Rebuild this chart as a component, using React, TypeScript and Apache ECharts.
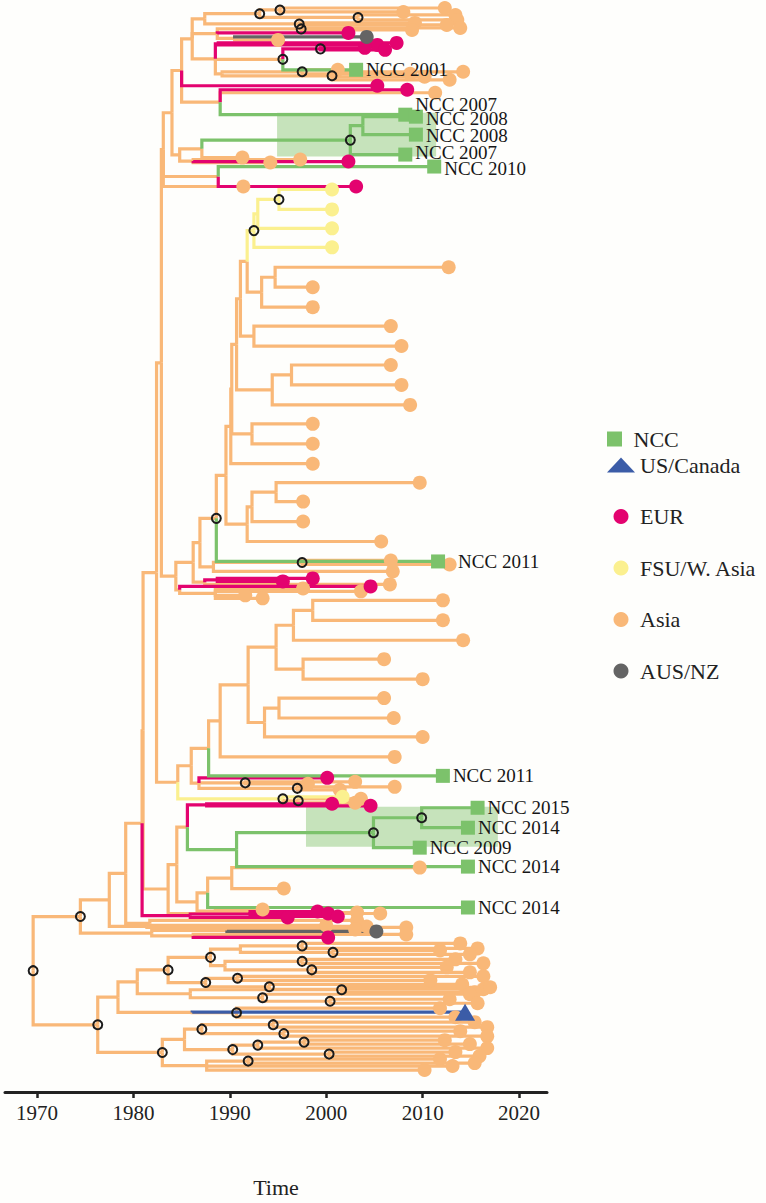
import React, { useEffect, useRef } from "react";
import * as echarts from "echarts";

// ---------------- data ----------------
// node = [year, regionCode, childrenOrRow, circled(1)|label]
// leaf: [tipYear, region, row, optionalLabel]; internal: [nodeYear, region, [children], 1 if node marked]
const timeTicks = [1970, 1980, 1990, 2000, 2010, 2020];
const regionNames: Record<string, string> = {
  N: "NCC",
  U: "US/Canada",
  E: "EUR",
  F: "FSU/W. Asia",
  A: "Asia",
  Z: "AUS/NZ",
};
const shapeLegend = ["N"];
const regionLegend = ["U", "E", "F", "A", "Z"];
// shaded intervals: [fromYear, fromRow, toYear, toRow]
const shadedIntervals = [
  [1994.9, 5.15, 2011.4, 7.35],
  [1997.9, 39.95, 2017.8, 41.95],
];

const topCluster = [1984.0, "A", [
  [1985.0, "A", [
    [1986.1, "A", [
      [1987.4, "A", [
        [1993.1, "A", [
          [1995.2, "A", [[2012.3, "A", -0.1], [2008.0, "A", 0.1]], 1],
          [2003.3, "A", [[2013.4, "A", 0.25], [2013.6, "A", 0.5]], 1],
        ], 1],
        [1997.2, "A", [[2009.2, "A", 0.65], [2012.5, "A", 0.75]], 1],
      ]],
      [1988.7, "A", [
        [1997.4, "A", [[2013.9, "A", 0.9], [2008.9, "A", 1.0]], 1],
        [2002.3, "E", 1.15],
        [1990.5, "A", [[2004.2, "Z", 1.35], [1995.0, "A", 1.5]]],
      ]],
      [1988.5, "A", [
        [1988.8, "E", [[2007.3, "E", 1.65], [2005.3, "E", 1.75]]],
        [1995.5, "A", [
          [1999.4, "E", [[2004.0, "E", 1.9], [2006.1, "E", 2.0]], 1],
          [2003.1, "N", 3.0, "NCC 2001"],
        ], 1],
        [1989.2, "A", [
          [1997.5, "A", [[2001.2, "A", 3.0], [2008.7, "A", 3.2]], 1],
          [2000.6, "A", [[2014.2, "A", 3.1], [2012.8, "A", 3.5], [2010.2, "A", 3.35]], 1],
        ]],
      ]],
    ]],
    [2005.3, "E", 3.8],
    [1989.0, "A", [[2008.4, "E", 4.0], [2011.3, "A", 4.15], [2008.2, "N", 5.25, "NCC 2007"]]],
  ]],
  [1984.8, "A", [
    [1987.1, "A", [
      [2002.5, "N", [
        [2003.8, "N", [[2009.3, "N", 5.35, "NCC 2008"], [2009.3, "N", 6.25, "NCC 2008"]]],
        [2008.2, "N", 7.25, "NCC 2007"],
      ], 1],
      [1991.3, "A", 7.4],
    ]],
    [1986.2, "A", [[1994.2, "A", 7.65], [1997.3, "A", 7.5], [2002.3, "E", 7.6]]],
  ]],
]];

const ncc2010Clade = [1988.8, "A", [[2011.2, "N", 7.85, "NCC 2010"], [2003.1, "E", 8.85]]];

const fsuClade = [1992.5, "F", [
  [1992.9, "F", [
    [1995.1, "F", [[2000.6, "F", 9.0], [2000.6, "F", 10.0]], 1],
    [2000.6, "F", 10.95],
  ]],
  [2000.6, "F", 11.9],
], 1];

const sparseClade = [1988.6, "A", [
  [1989.6, "A", [
    [1990.1, "A", [
      [1990.2, "A", [
        [1990.7, "A", [
          [1991.1, "A", [
            [1991.8, "A", [
              fsuClade,
              [1993.3, "A", [[1994.7, "A", [[2012.7, "A", 12.9], [1998.6, "A", 13.9]]], [1998.6, "A", 14.9]]],
            ]],
            [1992.5, "A", [[2006.7, "A", 15.85], [2007.8, "A", 16.85]]],
          ]],
          [1994.4, "A", [[1996.4, "A", [[2006.7, "A", 17.8], [2007.8, "A", 18.8]]], [2008.7, "A", 19.8]]],
        ]],
        [1992.3, "A", [[1998.6, "A", 20.75], [1998.6, "A", 21.75]]],
      ]],
      [1998.6, "A", 22.75],
    ]],
    [1991.8, "A", [
      [1992.3, "A", [[1994.8, "A", [[2009.7, "A", 23.7], [1997.6, "A", 24.65]]], [1997.6, "A", 25.65]]],
      [2005.7, "A", 26.65],
    ]],
  ]],
  [2011.6, "N", 27.65, "NCC 2011"],
], 1];

const midCluster = [1984.4, "A", [
  [1986.2, "A", [
    [1986.9, "A", [
      sparseClade,
      [1988.3, "A", [[1997.5, "A", [[2006.7, "A", 27.6], [2012.8, "A", 27.8]], 1], [2006.9, "A", 28.15]]],
    ]],
    [1987.4, "A", [[1988.7, "E", [[1995.5, "E", 28.65], [1998.6, "E", 28.5]]], [2006.6, "A", 28.8]]],
  ]],
  [1984.8, "A", [
    [2004.6, "E", 28.9],
    [1988.5, "A", [[2003.6, "A", 29.15], [1997.6, "A", 29.0], [1991.6, "A", 29.35], [1993.4, "A", 29.5]]],
  ]],
]];

const lowerMidCluster = [1984.6, "A", [
  [1986.0, "A", [
    [1987.8, "A", [
      [1989.0, "A", [
        [1991.9, "A", [
          [1994.8, "A", [
            [1996.6, "A", [[1998.6, "A", [[2012.1, "A", 29.6], [2012.1, "A", 30.6]]], [2014.2, "A", 31.6]]],
            [1997.6, "A", [[2006.0, "A", 32.55], [2010.0, "A", 33.55]]],
          ]],
          [1993.6, "A", [[1995.1, "A", [[2006.0, "A", 34.5], [2007.0, "A", 35.5]]], [2010.0, "A", 36.45]]],
        ]],
        [2007.1, "A", 37.45],
      ]],
      [2012.1, "N", 38.4, "NCC 2011"],
    ]],
    [1986.8, "A", [
      [2000.1, "E", 38.5],
      [1991.6, "A", [[1998.1, "A", 38.8], [2003.0, "A", 38.7]], 1],
      [1997.0, "A", [[2007.1, "A", 38.95], [2001.4, "A", 39.1]], 1],
    ]],
  ]],
  [1995.5, "F", [[2001.7, "F", 39.45], [1997.1, "A", [[2003.6, "A", 39.55], [2003.0, "A", 39.75]], 1]], 1],
]];

const nccLowerClade = [1983.6, "A", [
  [1984.5, "A", [
    [1985.6, "A", [
      [1987.6, "E", [[2000.6, "E", 39.8], [2004.6, "E", 39.9]]],
      [1990.7, "N", [
        [2004.9, "N", [
          [2009.9, "N", [[2015.7, "N", 40.0, "NCC 2015"], [2014.7, "N", 41.0, "NCC 2014"]], 1],
          [2009.7, "N", 42.0, "NCC 2009"],
        ], 1],
        [2014.7, "N", 42.95, "NCC 2014"],
      ]],
    ]],
    [1986.6, "A", [
      [1987.7, "A", [[1990.2, "A", [[2009.7, "A", 43.0], [1995.6, "A", 44.05]]], [2014.7, "N", 45.0, "NCC 2014"]]],
      [1988.5, "A", [[1993.4, "A", 45.1], [2003.2, "A", 45.25]]],
    ]],
  ]],
  [2005.6, "A", 45.3],
]];

const eurClade = [1985.9, "E", [
  [1996.0, "E", 45.5],
  [1992.1, "E", [[1999.1, "E", 45.2], [2000.2, "E", 45.3], [2001.2, "E", 45.45]]],
]];

const upperSpine = [1982.4, "A", [
  [1982.9, "A", [
    [1983.1, "A", [topCluster, ncc2010Clade, [1991.4, "A", 8.85]]],
    midCluster,
  ]],
  lowerMidCluster,
]];

const mainSpine = [1980.9, "A", [[1981.0, "A", [upperSpine, nccLowerClade]], eurClade]];

const cladeA = [1974.5, "A", [
  [1977.5, "A", [
    [1979.2, "A", [mainSpine, [1981.7, "A", [[2003.2, "A", 45.65], [2004.2, "A", 45.95]]]]],
    [1981.4, "A", [[2000.0, "A", 45.9], [2008.3, "A", 46.0]]],
  ]],
  [1981.9, "A", [
    [1989.7, "A", [[2005.2, "Z", 46.2], [2003.0, "A", 46.1]]],
    [1986.2, "A", [[2000.2, "E", 46.5], [2008.3, "A", 46.35]]],
  ]],
], 1];

const cladeB = [1976.3, "A", [
  [1978.4, "A", [
    [1980.4, "A", [
      [1983.6, "A", [
        [1988.0, "A", [
          [1991.1, "A", [
            [1997.5, "A", [[2013.9, "A", 46.8], [2015.7, "A", 47.05]], 1],
            [2000.7, "A", [[2011.8, "A", 47.15], [2014.9, "A", 47.35]], 1],
          ]],
          [1989.5, "A", [
            [1997.5, "A", [[2013.4, "A", 47.6], [2016.3, "A", 47.8]], 1],
            [1998.5, "A", [[2012.5, "A", 48.0], [2014.9, "A", 48.25]], 1],
          ]],
        ], 1],
        [1987.5, "A", [
          [1990.8, "A", [[2016.3, "A", 48.45], [2010.8, "A", 48.65]], 1],
          [1994.1, "A", [[2014.1, "A", 48.85], [2016.3, "A", 49.1]], 1],
        ], 1],
      ], 1],
      [1985.9, "A", [
        [2001.6, "A", [[2017.0, "A", 49.0], [2015.4, "A", 49.25]], 1],
        [1993.4, "A", [[2014.9, "A", 49.35], [2000.4, "A", [[2012.8, "A", 49.6], [2015.7, "A", 49.8]], 1]], 1],
      ]],
    ]],
    [1986.1, "A", [[2014.4, "U", 50.25], [1990.7, "A", [[2011.8, "A", 50.05], [2013.4, "A", 50.5]], 1]]],
  ]],
  [1983.0, "A", [
    [1985.3, "A", [
      [1987.1, "A", [
        [1994.5, "A", [[2015.4, "A", 50.75], [2016.7, "A", 51.0]], 1],
        [1995.6, "A", [[2013.9, "A", 51.2], [2016.7, "A", 51.45]], 1],
      ], 1],
      [1990.3, "A", [
        [1992.9, "A", [[1997.7, "A", [[2012.3, "A", 51.65], [2014.9, "A", 51.85]], 1], [2016.7, "A", 52.05]], 1],
        [2000.3, "A", [[2013.4, "A", 52.25], [2015.9, "A", 52.45]], 1],
      ], 1],
    ]],
    [1987.6, "A", [
      [1991.9, "A", [[2011.8, "A", 52.6], [2015.4, "A", 52.8]], 1],
      [2013.1, "A", 52.95],
      [2010.2, "A", 53.15],
    ]],
  ], 1],
], 1];

const treeRoot = [1969.6, "A", [cladeA, cladeB], 1];

// ---------------- styles ----------------
const COLORS: Record<string, string> = {
  N: "#7cc26b",
  U: "#3b5ca7",
  E: "#e3036f",
  F: "#fbf08f",
  A: "#f9b878",
  Z: "#646464",
};
const FONT = "'Liberation Serif', 'Times New Roman', 'DejaVu Serif', serif";
const DRAW_ORDER: Record<string, number> = { A: 0, F: 1, Z: 2, E: 3, N: 4, U: 5 };
// [dx, dy] nudges (px) for NCC tip labels, in tree traversal order
const nccLabelNudge = [
  [0, 0], [0, -10], [0, 2], [0, 1], [0, -2], [0, 2], [10, 0],
  [0, 0], [0, 0], [0, 0], [0, 0], [0, 0], [0, 0],
];
const SQUARE_ICON = "path://M0,0L10,0L10,10L0,10Z";

interface Laid {
  year: number;
  reg: string;
  y: number;
  circled: boolean;
  label?: string;
  leaf: boolean;
  children: Laid[];
}

function layout(n: any[]): Laid {
  const [year, reg, third, extra] = n;
  if (Array.isArray(third)) {
    const kids = third.map((k: any[]) => layout(k));
    const ys = kids.map((k) => k.y);
    const y = (Math.min(...ys) + Math.max(...ys)) / 2;
    return { year, reg, y, circled: extra === 1, leaf: false, children: kids };
  }
  return { year, reg, y: third, circled: false, label: extra, leaf: true, children: [] };
}

function iconFor(c: string) {
  return c === "N" ? SQUARE_ICON : c === "U" ? "triangle" : "circle";
}

function buildOption() {
  const root = layout(treeRoot);
  const edges: { coords: number[][]; reg: string }[] = [];
  const leaves: Laid[] = [];
  const marked: Laid[] = [];
  const walk = (n: Laid) => {
    if (n.circled) marked.push(n);
    if (n.leaf) leaves.push(n);
    n.children.forEach((c) => {
      edges.push({
        coords: [
          [n.year, n.y],
          [n.year, c.y],
          [c.year, c.y],
        ],
        reg: c.reg,
      });
      walk(c);
    });
  };
  walk(root);
  edges.sort((a, b) => DRAW_ORDER[a.reg] - DRAW_ORDER[b.reg]);

  let nccIdx = 0;
  const tipSeries = ["A", "F", "E", "Z", "N", "U"].map((code) => {
    const data = leaves
      .filter((l) => l.reg === code)
      .map((l) => {
        if (code === "N") {
          const off = nccLabelNudge[nccIdx++] || [0, 0];
          return { value: [l.year, l.y], name: l.label || "", label: { offset: off } };
        }
        return { value: [l.year, l.y] };
      });
    return {
      type: "scatter",
      name: regionNames[code],
      z: 4,
      clip: false,
      symbol: code === "N" ? "rect" : code === "U" ? "triangle" : "circle",
      symbolSize: code === "U" ? [20, 17] : 14,
      itemStyle: { color: COLORS[code], opacity: 1 },
      emphasis: { disabled: true },
      label:
        code === "N"
          ? {
              show: true,
              position: "right",
              distance: 3,
              formatter: "{b}",
              fontSize: 19,
              lineHeight: 15,
              fontFamily: FONT,
              color: "#161616",
            }
          : { show: false },
      data,
    };
  });

  const legendBase = {
    orient: "vertical",
    left: 602,
    itemWidth: 28,
    itemHeight: 15,
    symbolKeepAspect: true,
    selectedMode: false,
    textStyle: { fontSize: 22, fontFamily: FONT, color: "#222" },
  };

  return {
    animation: false,
    backgroundColor: "#fefefc",
    grid: { left: 5, right: 219, top: 0, height: 1090 },
    xAxis: {
      type: "value",
      min: 1966.68,
      max: 2022.9,
      position: "bottom",
      offset: 5,
      axisLine: { show: true, onZero: false, lineStyle: { color: "#222", width: 3 } },
      axisTick: { show: true, customValues: timeTicks, length: 6, lineStyle: { color: "#222", width: 2.5 } },
      axisLabel: {
        customValues: timeTicks,
        formatter: (v: number) => String(v),
        fontSize: 21,
        fontFamily: FONT,
        color: "#222",
        margin: 10,
      },
      splitLine: { show: false },
      name: "Time",
      nameLocation: "middle",
      nameGap: 84,
      nameTextStyle: { fontSize: 22, fontFamily: FONT, color: "#222" },
    },
    yAxis: { type: "value", min: -0.5, max: 54, inverse: true, show: false },
    legend: [
      {
        ...legendBase,
        top: 423,
        data: shapeLegend.map((c) => ({ name: regionNames[c], icon: iconFor(c) })),
      },
      {
        ...legendBase,
        top: 449,
        itemGap: 29.5,
        data: regionLegend.map((c) => ({ name: regionNames[c], icon: iconFor(c) })),
      },
    ],
    series: [
      {
        type: "custom",
        name: "interval",
        z: 1,
        silent: true,
        data: shadedIntervals,
        renderItem: (_p: any, api: any) => {
          const a = api.coord([api.value(0), api.value(1)]);
          const b = api.coord([api.value(2), api.value(3)]);
          return {
            type: "rect",
            shape: {
              x: Math.min(a[0], b[0]),
              y: Math.min(a[1], b[1]),
              width: Math.abs(b[0] - a[0]),
              height: Math.abs(b[1] - a[1]),
            },
            style: { fill: "rgba(122,190,98,0.42)" },
          };
        },
      },
      {
        type: "lines",
        name: "branches",
        coordinateSystem: "cartesian2d",
        polyline: true,
        z: 2,
        silent: true,
        clip: false,
        lineStyle: { width: 3.2, opacity: 1 },
        data: edges.map((e) => ({ coords: e.coords, lineStyle: { color: COLORS[e.reg], width: 3.2, opacity: 1 } })),
      },
      ...tipSeries,
      {
        type: "scatter",
        name: "nodes",
        z: 5,
        clip: false,
        symbol: "circle",
        symbolSize: 9,
        itemStyle: { color: "rgba(0,0,0,0)", borderColor: "#1b1b1b", borderWidth: 2, opacity: 1 },
        emphasis: { disabled: true },
        data: marked.map((m) => [m.year, m.y]),
      },
    ],
  };
}

export default function App() {
  const ref = useRef<HTMLDivElement>(null);
  useEffect(() => {
    if (!ref.current) return;
    const chart = echarts.init(ref.current, null, { renderer: "svg" });
    chart.setOption(buildOption() as any);
    return () => chart.dispose();
  }, []);
  return (
    <div
      ref={ref}
      style={{ position: "fixed", left: 0, top: 0, width: 766, height: 1203, background: "#fefefc" }}
    />
  );
}
